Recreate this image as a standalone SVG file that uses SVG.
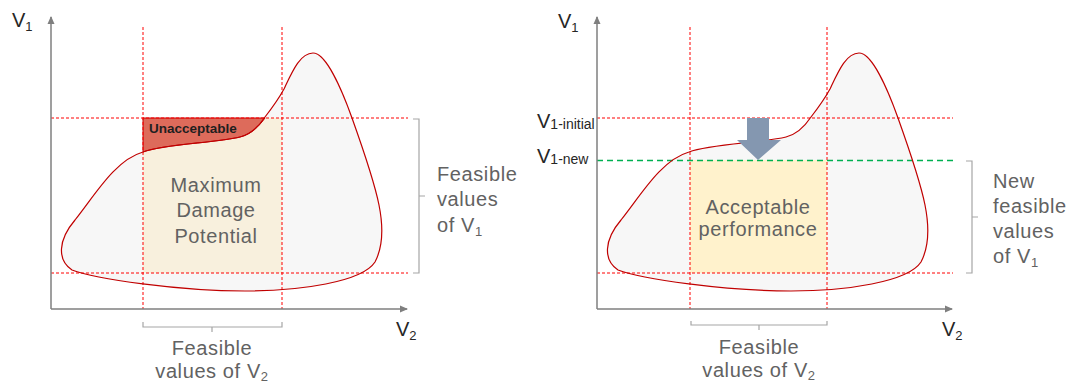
<svg xmlns="http://www.w3.org/2000/svg" width="1076" height="385" viewBox="0 0 1076 385">
<defs>
<style>
text{font-family:"Liberation Sans",Arial,sans-serif;}
.axis{stroke:#7f7f7f;stroke-width:1.5;fill:none;}
.rdash{stroke:#ff0000;stroke-width:1;stroke-dasharray:3 2;fill:none;}
.gdash{stroke:#00b050;stroke-width:1.5;stroke-dasharray:6 4;fill:none;}
.blobfill{fill:#f7f7f7;stroke:none;}
.blobline{fill:none;stroke:#c00000;stroke-width:1.2;}
.brace{fill:none;stroke:#a6a6a6;stroke-width:1.2;}
.lbl{fill:#626262;font-size:20px;letter-spacing:0.6px;}
.ax{fill:#262626;font-size:20px;}
.sub{font-size:13px;}
</style>
<marker id="ah" markerWidth="8" markerHeight="8" refX="7" refY="4" orient="auto" markerUnits="userSpaceOnUse">
<path d="M0,0.5 L8,4 L0,7.5 Z" fill="#7f7f7f"/>
</marker>
<path id="blob" d="M143,152 C165,144 215,143 240,137 C252,134 259,126 265,117 C272,108 278,100 284,89 C292,72 300,53 313,53 C326,53 342,90 352,118 C362,146 374,180 379,205 C383,225 384,245 375,262 C362,282 300,291 245,291 C180,291 95,279 72,270 C57,260 58,240 75,220 C95,195 115,160 143,152 Z"/>
</defs>
<rect width="1076" height="385" fill="#ffffff"/>

<g id="left-panel">
<use href="#blob" class="blobfill"/>
<rect x="143" y="118" width="139" height="155" fill="#f8f0dd"/>
<path d="M143,118 L265,118 C259,126 252,134 240,137 C215,143 165,144 143,152 Z" fill="#dd6b5b" stroke="#c00000" stroke-width="1"/>
<line class="rdash" x1="143" y1="27" x2="143" y2="309"/>
<line class="rdash" x1="282" y1="27" x2="282" y2="309"/>
<line class="rdash" x1="51" y1="118" x2="408" y2="118"/>
<line class="rdash" x1="51" y1="273" x2="408" y2="273"/>
<use href="#blob" class="blobline"/>
<line class="axis" x1="51" y1="309" x2="51" y2="17" marker-end="url(#ah)"/>
<line class="axis" x1="51" y1="309" x2="407" y2="309" marker-end="url(#ah)"/>
<text class="ax" x="12" y="27">V<tspan class="sub" dy="4">1</tspan></text>
<text class="ax" x="396" y="336">V<tspan class="sub" dy="4">2</tspan></text>
<text x="149" y="133" font-size="13.5" font-weight="bold" fill="#1f1f1f">Unacceptable</text>
<text class="lbl" text-anchor="middle" font-size="21" x="216" y="192">Maximum</text>
<text class="lbl" text-anchor="middle" font-size="21" x="216" y="217">Damage</text>
<text class="lbl" text-anchor="middle" font-size="21" x="216" y="243">Potential</text>
<path class="brace" d="M413,119 L419,119 L419,273 L413,273 M419,196 L425,196"/>
<text class="lbl" x="437" y="181">Feasible</text>
<text class="lbl" x="437" y="206">values</text>
<text class="lbl" x="437" y="232">of V<tspan class="sub" dy="4">1</tspan></text>
<path class="brace" d="M143,322 L143,327 L282,327 L282,322 M212,327 L212,332"/>
<text class="lbl" text-anchor="middle" x="212" y="355">Feasible</text>
<text class="lbl" text-anchor="middle" x="212" y="378">values of V<tspan class="sub" dy="3">2</tspan></text>
</g>

<g id="right-panel">
<use href="#blob" class="blobfill" transform="translate(546,0)"/>
<rect x="690" y="160" width="137" height="113" fill="#fff2cc"/>
<line class="rdash" x1="690" y1="27" x2="690" y2="309"/>
<line class="rdash" x1="827" y1="27" x2="827" y2="309"/>
<line class="rdash" x1="597" y1="118" x2="953" y2="118"/>
<line class="rdash" x1="597" y1="273" x2="953" y2="273"/>
<line class="gdash" x1="597" y1="160.5" x2="953" y2="160.5"/>
<use href="#blob" class="blobline" transform="translate(546,0)"/>
<line class="axis" x1="597" y1="309" x2="597" y2="17" marker-end="url(#ah)"/>
<line class="axis" x1="597" y1="309" x2="952" y2="309" marker-end="url(#ah)"/>
<text class="ax" x="558" y="28">V<tspan class="sub" dy="4">1</tspan></text>
<text class="ax" x="942" y="336">V<tspan class="sub" dy="4">2</tspan></text>
<text class="ax" x="537" y="128" fill="#404040">V<tspan font-size="14" dy="1">1-initial</tspan></text>
<text class="ax" x="537" y="163" fill="#404040">V<tspan font-size="14" dy="1">1-new</tspan></text>
<path id="arrow" d="M747,118 L769,118 L769,140 L781,140 L758,160 L737,140 L747,140 Z" fill="#8497b0"/>
<text class="lbl" text-anchor="middle" font-size="17" x="758" y="214">Acceptable</text>
<text class="lbl" text-anchor="middle" font-size="17" x="758" y="236">performance</text>
<path class="brace" d="M966,161 L972,161 L972,273 L966,273 M972,217 L978,217"/>
<text class="lbl" x="993" y="188">New</text>
<text class="lbl" x="993" y="213">feasible</text>
<text class="lbl" x="993" y="238">values</text>
<text class="lbl" x="993" y="263">of V<tspan class="sub" dy="4">1</tspan></text>
<path class="brace" d="M691,321 L691,325 L827,325 L827,321 M759,325 L759,330"/>
<text class="lbl" text-anchor="middle" x="759" y="354">Feasible</text>
<text class="lbl" text-anchor="middle" x="759" y="377">values of V<tspan class="sub" dy="3">2</tspan></text>
</g>
</svg>
